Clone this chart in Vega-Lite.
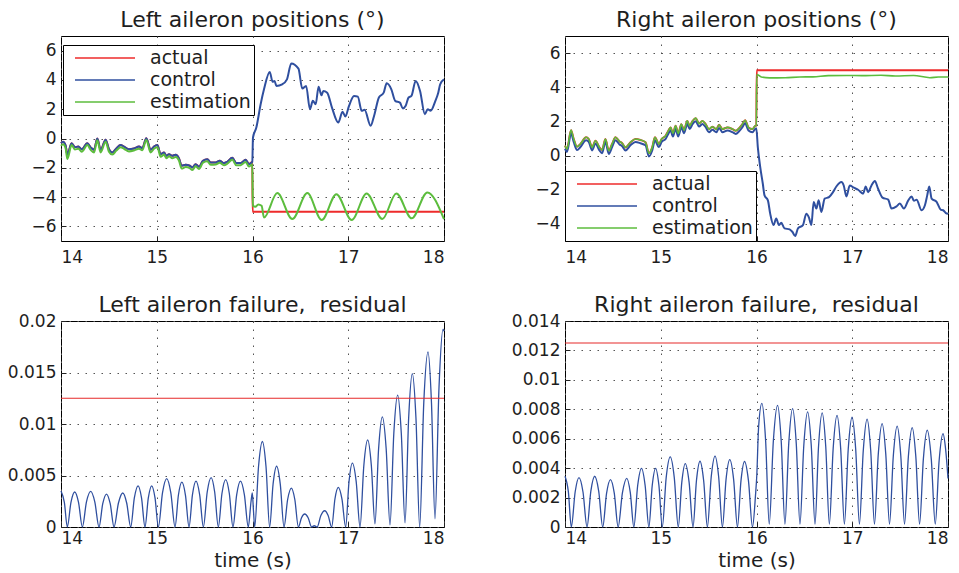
{
  "$schema": "https://vega.github.io/schema/vega-lite/v6.json",
  "background": "white",
  "padding": {"left": 6, "top": 8, "right": 5, "bottom": 0},
  "config": {
    "font": "DejaVu Sans",
    "view": {"stroke": "black", "strokeWidth": 1},
    "axis": {
      "domain": false,
      "grid": true,
      "gridColor": "#555555",
      "gridDash": [1.5, 6.5],
      "gridWidth": 1,
      "ticks": true,
      "tickColor": "#222222",
      "tickSize": -5,
      "tickCount": 20,
      "labelPadding": 10,
      "labelOverlap": false,
      "labelFont": "DejaVu Sans",
      "labelFontSize": 17,
      "labelColor": "#1e1e1e",
      "titleFont": "DejaVu Sans",
      "titleFontSize": 20,
      "titleFontWeight": "normal",
      "titleColor": "#1e1e1e"
    },
    "title": {"font": "DejaVu Sans", "fontSize": 22, "fontWeight": "normal", "color": "#1e1e1e", "frame": "group", "anchor": "middle", "offset": 4},
    "legend": {
      "orient": "none",
      "title": null,
      "symbolType": "stroke",
      "symbolSize": 3600,
      "symbolStrokeWidth": 1.6,
      "clipHeight": 20,
      "rowPadding": 2,
      "padding": 3,
      "symbolOffset": 8,
      "labelOffset": 14,
      "labelFont": "DejaVu Sans",
      "labelFontSize": 19,
      "labelColor": "#1e1e1e",
      "strokeColor": "black",
      "fillColor": "white"
    },
    "line": {"interpolate": "monotone"}
  },
  "datasets": {
    "leftControl": [
      {"t":14.0,"v":-0.32},{"t":14.021,"v":-0.23},{"t":14.049,"v":-0.5},{"t":14.066,"v":-1.1},{"t":14.111,"v":-0.32},{"t":14.146,"v":-0.6},{"t":14.181,"v":-0.55},{"t":14.216,"v":-0.73},{"t":14.275,"v":-0.32},{"t":14.31,"v":-0.61},{"t":14.345,"v":-0.77},{"t":14.379,"v":0.0},{"t":14.414,"v":-0.77},{"t":14.466,"v":-0.09},{"t":14.501,"v":-0.73},{"t":14.536,"v":-0.95},{"t":14.578,"v":-0.68},{"t":14.623,"v":-0.45},{"t":14.658,"v":-0.55},{"t":14.71,"v":-0.73},{"t":14.762,"v":-0.68},{"t":14.815,"v":-0.55},{"t":14.849,"v":-0.66},{"t":14.891,"v":0.02},{"t":14.936,"v":-0.77},{"t":14.971,"v":-0.55},{"t":15.006,"v":-0.45},{"t":15.041,"v":-1.07},{"t":15.076,"v":-0.95},{"t":15.1,"v":-1.18},{"t":15.128,"v":-1.07},{"t":15.163,"v":-1.18},{"t":15.198,"v":-1.11},{"t":15.232,"v":-1.36},{"t":15.26,"v":-1.86},{"t":15.302,"v":-1.8},{"t":15.344,"v":-1.86},{"t":15.372,"v":-1.98},{"t":15.406,"v":-1.75},{"t":15.441,"v":-1.93},{"t":15.483,"v":-1.52},{"t":15.528,"v":-1.41},{"t":15.563,"v":-1.64},{"t":15.615,"v":-1.64},{"t":15.657,"v":-1.52},{"t":15.702,"v":-1.68},{"t":15.737,"v":-1.59},{"t":15.789,"v":-1.32},{"t":15.831,"v":-1.68},{"t":15.876,"v":-1.68},{"t":15.929,"v":-1.45},{"t":15.963,"v":-1.75},{"t":15.998,"v":-1.6},
      {"t":16.005,"v":0.07},{"t":16.04,"v":0.75},{"t":16.085,"v":2.34},{"t":16.12,"v":3.36},{"t":16.18,"v":4.55},{"t":16.21,"v":3.87},{"t":16.23,"v":3.93},{"t":16.25,"v":3.59},{"t":16.31,"v":3.7},{"t":16.36,"v":4.04},{"t":16.405,"v":5.13},{"t":16.48,"v":4.77},{"t":16.52,"v":3.41},{"t":16.56,"v":3.59},{"t":16.6,"v":2.0},{"t":16.63,"v":2.57},{"t":16.66,"v":2.34},{"t":16.69,"v":3.54},{"t":16.72,"v":2.95},{"t":16.74,"v":3.25},{"t":16.78,"v":3.13},{"t":16.83,"v":2.11},{"t":16.896,"v":1.09},{"t":16.94,"v":1.82},{"t":16.97,"v":1.5},{"t":17.008,"v":2.23},{"t":17.06,"v":2.91},{"t":17.1,"v":2.86},{"t":17.14,"v":1.89},{"t":17.17,"v":1.96},{"t":17.234,"v":0.87},{"t":17.27,"v":1.55},{"t":17.32,"v":2.8},{"t":17.37,"v":3.13},{"t":17.401,"v":3.77},{"t":17.45,"v":3.36},{"t":17.49,"v":2.57},{"t":17.54,"v":2.45},{"t":17.57,"v":2.05},{"t":17.6,"v":2.23},{"t":17.63,"v":2.8},{"t":17.66,"v":2.91},{"t":17.704,"v":3.93},{"t":17.75,"v":3.25},{"t":17.8,"v":1.66},{"t":17.83,"v":2.0},{"t":17.86,"v":1.89},{"t":17.91,"v":2.57},{"t":17.94,"v":3.13},{"t":17.96,"v":3.7},{"t":18.0,"v":4.04}
    ],
    "leftActual": [
      {"t":14.0,"v":-0.32},{"t":14.021,"v":-0.23},{"t":14.049,"v":-0.5},{"t":14.066,"v":-1.1},{"t":14.111,"v":-0.32},{"t":14.146,"v":-0.6},{"t":14.181,"v":-0.55},{"t":14.216,"v":-0.73},{"t":14.275,"v":-0.32},{"t":14.31,"v":-0.61},{"t":14.345,"v":-0.77},{"t":14.379,"v":0.0},{"t":14.414,"v":-0.77},{"t":14.466,"v":-0.09},{"t":14.501,"v":-0.73},{"t":14.536,"v":-0.95},{"t":14.578,"v":-0.68},{"t":14.623,"v":-0.45},{"t":14.658,"v":-0.55},{"t":14.71,"v":-0.73},{"t":14.762,"v":-0.68},{"t":14.815,"v":-0.55},{"t":14.849,"v":-0.66},{"t":14.891,"v":0.02},{"t":14.936,"v":-0.77},{"t":14.971,"v":-0.55},{"t":15.006,"v":-0.45},{"t":15.041,"v":-1.07},{"t":15.076,"v":-0.95},{"t":15.1,"v":-1.18},{"t":15.128,"v":-1.07},{"t":15.163,"v":-1.18},{"t":15.198,"v":-1.11},{"t":15.232,"v":-1.36},{"t":15.26,"v":-1.86},{"t":15.302,"v":-1.8},{"t":15.344,"v":-1.86},{"t":15.372,"v":-1.98},{"t":15.406,"v":-1.75},{"t":15.441,"v":-1.93},{"t":15.483,"v":-1.52},{"t":15.528,"v":-1.41},{"t":15.563,"v":-1.64},{"t":15.615,"v":-1.64},{"t":15.657,"v":-1.52},{"t":15.702,"v":-1.68},{"t":15.737,"v":-1.59},{"t":15.789,"v":-1.32},{"t":15.831,"v":-1.68},{"t":15.876,"v":-1.68},{"t":15.929,"v":-1.45},{"t":15.963,"v":-1.75},{"t":15.998,"v":-1.6},
      {"t":16.001,"v":-5.0},{"t":18.0,"v":-5.0}
    ],
    "leftEstimation": [
      {"t":14.0,"v":-0.5},{"t":14.021,"v":-0.4},{"t":14.049,"v":-0.7},{"t":14.066,"v":-1.4},{"t":14.111,"v":-0.45},{"t":14.146,"v":-0.75},{"t":14.181,"v":-0.7},{"t":14.216,"v":-0.9},{"t":14.275,"v":-0.45},{"t":14.31,"v":-0.78},{"t":14.345,"v":-0.95},{"t":14.379,"v":-0.12},{"t":14.414,"v":-0.95},{"t":14.466,"v":-0.22},{"t":14.501,"v":-0.9},{"t":14.536,"v":-1.1},{"t":14.578,"v":-0.82},{"t":14.623,"v":-0.6},{"t":14.658,"v":-0.7},{"t":14.71,"v":-0.88},{"t":14.762,"v":-0.82},{"t":14.815,"v":-0.7},{"t":14.849,"v":-0.8},{"t":14.891,"v":-0.1},{"t":14.936,"v":-0.95},{"t":14.971,"v":-0.7},{"t":15.006,"v":-0.6},{"t":15.041,"v":-1.25},{"t":15.076,"v":-1.1},{"t":15.1,"v":-1.35},{"t":15.128,"v":-1.22},{"t":15.163,"v":-1.35},{"t":15.198,"v":-1.27},{"t":15.232,"v":-1.5},{"t":15.26,"v":-2.05},{"t":15.302,"v":-1.95},{"t":15.344,"v":-2.02},{"t":15.372,"v":-2.15},{"t":15.406,"v":-1.9},{"t":15.441,"v":-2.08},{"t":15.483,"v":-1.65},{"t":15.528,"v":-1.55},{"t":15.563,"v":-1.8},{"t":15.615,"v":-1.78},{"t":15.657,"v":-1.65},{"t":15.702,"v":-1.82},{"t":15.737,"v":-1.72},{"t":15.789,"v":-1.45},{"t":15.831,"v":-1.83},{"t":15.876,"v":-1.82},{"t":15.929,"v":-1.6},{"t":15.963,"v":-1.92},{"t":15.998,"v":-1.75},
      {"t":16.004,"v":-4.6},{"t":16.03,"v":-4.66},{"t":16.06,"v":-4.5},{"t":16.095,"v":-4.6},{"t":16.12,"v":-5.4},{"t":16.259,"v":-3.73},{"t":16.416,"v":-5.5},{"t":16.573,"v":-3.73},{"t":16.723,"v":-5.57},{"t":16.876,"v":-3.8},{"t":17.036,"v":-5.57},{"t":17.192,"v":-3.75},{"t":17.356,"v":-5.5},{"t":17.502,"v":-3.75},{"t":17.663,"v":-5.45},{"t":17.826,"v":-3.68},{"t":18.0,"v":-5.5}
    ],
    "rightEstimation": [
      {"t":14.0,"v":0.58},{"t":14.021,"v":0.39},{"t":14.063,"v":1.49},{"t":14.091,"v":0.97},{"t":14.126,"v":0.52},{"t":14.161,"v":0.68},{"t":14.22,"v":1.07},{"t":14.248,"v":0.97},{"t":14.283,"v":0.48},{"t":14.318,"v":0.87},{"t":14.36,"v":0.48},{"t":14.387,"v":0.33},{"t":14.422,"v":0.97},{"t":14.457,"v":0.29},{"t":14.492,"v":0.68},{"t":14.527,"v":1.07},{"t":14.569,"v":0.83},{"t":14.597,"v":0.72},{"t":14.632,"v":0.48},{"t":14.684,"v":0.78},{"t":14.736,"v":0.97},{"t":14.789,"v":0.91},{"t":14.841,"v":0.78},{"t":14.876,"v":0.14},{"t":14.911,"v":0.48},{"t":14.939,"v":1.07},{"t":14.981,"v":0.68},{"t":15.009,"v":0.97},{"t":15.051,"v":1.16},{"t":15.079,"v":1.45},{"t":15.103,"v":1.65},{"t":15.127,"v":1.3},{"t":15.155,"v":1.74},{"t":15.183,"v":1.3},{"t":15.215,"v":1.84},{"t":15.243,"v":1.49},{"t":15.277,"v":2.03},{"t":15.302,"v":1.74},{"t":15.33,"v":2.0},{"t":15.365,"v":2.19},{"t":15.4,"v":1.88},{"t":15.435,"v":2.03},{"t":15.469,"v":1.84},{"t":15.504,"v":1.55},{"t":15.539,"v":1.69},{"t":15.581,"v":1.55},{"t":15.609,"v":1.8},{"t":15.644,"v":1.55},{"t":15.696,"v":1.65},{"t":15.749,"v":1.55},{"t":15.783,"v":1.45},{"t":15.818,"v":1.6},{"t":15.853,"v":1.84},{"t":15.881,"v":2.07},{"t":15.916,"v":1.65},{"t":15.958,"v":1.55},{"t":15.986,"v":1.74},{"t":15.998,"v":1.75},
      {"t":16.003,"v":4.75},{"t":16.05,"v":4.6},{"t":16.136,"v":4.55},{"t":16.3,"v":4.56},{"t":16.45,"v":4.6},{"t":16.59,"v":4.61},{"t":16.75,"v":4.68},{"t":16.94,"v":4.69},{"t":17.1,"v":4.68},{"t":17.3,"v":4.7},{"t":17.45,"v":4.66},{"t":17.64,"v":4.69},{"t":17.81,"v":4.56},{"t":17.9,"v":4.6},{"t":18.0,"v":4.6}
    ],
    "rightActual": [
      {"t":14.0,"v":0.58},{"t":14.021,"v":0.39},{"t":14.063,"v":1.49},{"t":14.091,"v":0.97},{"t":14.126,"v":0.52},{"t":14.161,"v":0.68},{"t":14.22,"v":1.07},{"t":14.248,"v":0.97},{"t":14.283,"v":0.48},{"t":14.318,"v":0.87},{"t":14.36,"v":0.48},{"t":14.387,"v":0.33},{"t":14.422,"v":0.97},{"t":14.457,"v":0.29},{"t":14.492,"v":0.68},{"t":14.527,"v":1.07},{"t":14.569,"v":0.83},{"t":14.597,"v":0.72},{"t":14.632,"v":0.48},{"t":14.684,"v":0.78},{"t":14.736,"v":0.97},{"t":14.789,"v":0.91},{"t":14.841,"v":0.78},{"t":14.876,"v":0.14},{"t":14.911,"v":0.48},{"t":14.939,"v":1.07},{"t":14.981,"v":0.68},{"t":15.009,"v":0.97},{"t":15.051,"v":1.16},{"t":15.079,"v":1.45},{"t":15.103,"v":1.65},{"t":15.127,"v":1.3},{"t":15.155,"v":1.74},{"t":15.183,"v":1.3},{"t":15.215,"v":1.84},{"t":15.243,"v":1.49},{"t":15.277,"v":2.03},{"t":15.302,"v":1.74},{"t":15.33,"v":2.0},{"t":15.365,"v":2.19},{"t":15.4,"v":1.88},{"t":15.435,"v":2.03},{"t":15.469,"v":1.84},{"t":15.504,"v":1.55},{"t":15.539,"v":1.69},{"t":15.581,"v":1.55},{"t":15.609,"v":1.8},{"t":15.644,"v":1.55},{"t":15.696,"v":1.65},{"t":15.749,"v":1.55},{"t":15.783,"v":1.45},{"t":15.818,"v":1.6},{"t":15.853,"v":1.84},{"t":15.881,"v":2.07},{"t":15.916,"v":1.65},{"t":15.958,"v":1.55},{"t":15.986,"v":1.74},{"t":15.998,"v":1.75},
      {"t":16.002,"v":5.0},{"t":18.0,"v":5.0}
    ],
    "rightControl": [
      {"t":14.0,"v":0.4},{"t":14.021,"v":0.22},{"t":14.063,"v":1.3},{"t":14.091,"v":0.8},{"t":14.126,"v":0.33},{"t":14.161,"v":0.5},{"t":14.22,"v":0.9},{"t":14.248,"v":0.8},{"t":14.283,"v":0.3},{"t":14.318,"v":0.7},{"t":14.36,"v":0.3},{"t":14.387,"v":0.14},{"t":14.422,"v":0.8},{"t":14.457,"v":0.1},{"t":14.492,"v":0.5},{"t":14.527,"v":0.9},{"t":14.569,"v":0.65},{"t":14.597,"v":0.55},{"t":14.632,"v":0.3},{"t":14.684,"v":0.6},{"t":14.736,"v":0.8},{"t":14.789,"v":0.72},{"t":14.841,"v":0.6},{"t":14.876,"v":-0.05},{"t":14.911,"v":0.3},{"t":14.939,"v":0.88},{"t":14.981,"v":0.5},{"t":15.009,"v":0.8},{"t":15.051,"v":0.98},{"t":15.079,"v":1.27},{"t":15.103,"v":1.47},{"t":15.127,"v":1.12},{"t":15.155,"v":1.56},{"t":15.183,"v":1.12},{"t":15.215,"v":1.66},{"t":15.243,"v":1.31},{"t":15.277,"v":1.85},{"t":15.302,"v":1.56},{"t":15.33,"v":1.82},{"t":15.365,"v":2.01},{"t":15.4,"v":1.7},{"t":15.435,"v":1.85},{"t":15.469,"v":1.66},{"t":15.504,"v":1.37},{"t":15.539,"v":1.51},{"t":15.581,"v":1.37},{"t":15.609,"v":1.62},{"t":15.644,"v":1.37},{"t":15.696,"v":1.47},{"t":15.749,"v":1.37},{"t":15.783,"v":1.27},{"t":15.818,"v":1.42},{"t":15.853,"v":1.66},{"t":15.881,"v":1.89},{"t":15.916,"v":1.47},{"t":15.958,"v":1.37},{"t":15.986,"v":1.56},{"t":15.998,"v":1.6},
      {"t":16.014,"v":0.48},{"t":16.039,"v":-0.68},{"t":16.066,"v":-1.65},{"t":16.084,"v":-2.33},{"t":16.119,"v":-2.62},{"t":16.143,"v":-3.4},{"t":16.178,"v":-4.07},{"t":16.206,"v":-3.68},{"t":16.234,"v":-4.07},{"t":16.258,"v":-3.93},{"t":16.293,"v":-4.26},{"t":16.346,"v":-4.32},{"t":16.374,"v":-4.46},{"t":16.405,"v":-4.71},{"t":16.433,"v":-4.26},{"t":16.485,"v":-4.07},{"t":16.52,"v":-3.4},{"t":16.548,"v":-3.63},{"t":16.573,"v":-4.07},{"t":16.597,"v":-2.71},{"t":16.625,"v":-3.1},{"t":16.649,"v":-2.62},{"t":16.677,"v":-3.3},{"t":16.712,"v":-2.52},{"t":16.757,"v":-2.43},{"t":16.799,"v":-2.14},{"t":16.834,"v":-1.81},{"t":16.887,"v":-1.55},{"t":16.911,"v":-1.75},{"t":16.939,"v":-2.39},{"t":16.974,"v":-1.75},{"t":17.016,"v":-1.88},{"t":17.061,"v":-2.0},{"t":17.113,"v":-2.23},{"t":17.141,"v":-1.81},{"t":17.165,"v":-2.14},{"t":17.201,"v":-1.75},{"t":17.236,"v":-1.49},{"t":17.27,"v":-1.94},{"t":17.316,"v":-2.46},{"t":17.375,"v":-2.58},{"t":17.41,"v":-3.1},{"t":17.463,"v":-2.97},{"t":17.497,"v":-2.81},{"t":17.539,"v":-3.1},{"t":17.585,"v":-2.62},{"t":17.62,"v":-2.39},{"t":17.644,"v":-2.65},{"t":17.672,"v":-2.58},{"t":17.724,"v":-3.2},{"t":17.759,"v":-2.91},{"t":17.783,"v":-2.33},{"t":17.804,"v":-1.81},{"t":17.829,"v":-2.52},{"t":17.881,"v":-2.71},{"t":17.923,"v":-3.16},{"t":17.95,"v":-3.2},{"t":17.986,"v":-3.39},{"t":18.0,"v":-3.4}
    ],
    "leftResidual": [
      {"t":14.0,"v":0.0035},{"t":14.035,"v":0.0024},{"t":14.066,"v":0},
      {"t":14.104,"v":0.0024},{"t":14.143,"v":0.0034},{"t":14.183,"v":0.0024},{"t":14.223,"v":0},
      {"t":14.266,"v":0.00244},{"t":14.31,"v":0.00345},{"t":14.353,"v":0.00244},{"t":14.397,"v":0},
      {"t":14.436,"v":0.00226},{"t":14.475,"v":0.0032},{"t":14.514,"v":0.00226},{"t":14.554,"v":0},
      {"t":14.6,"v":0.00233},{"t":14.645,"v":0.0033},{"t":14.686,"v":0.00233},{"t":14.728,"v":0},
      {"t":14.766,"v":0.00283},{"t":14.805,"v":0.004},{"t":14.841,"v":0.00283},{"t":14.877,"v":0},
      {"t":14.912,"v":0.00283},{"t":14.947,"v":0.004},{"t":14.982,"v":0.00283},{"t":15.017,"v":0},
      {"t":15.06,"v":0.00332},{"t":15.104,"v":0.0047},{"t":15.147,"v":0.00332},{"t":15.191,"v":0},
      {"t":15.226,"v":0.00308},{"t":15.262,"v":0.00435},{"t":15.3,"v":0.00308},{"t":15.337,"v":0},
      {"t":15.373,"v":0.00315},{"t":15.41,"v":0.00445},{"t":15.448,"v":0.00315},{"t":15.487,"v":0},
      {"t":15.527,"v":0.0034},{"t":15.568,"v":0.0048},{"t":15.605,"v":0.0034},{"t":15.643,"v":0},
      {"t":15.681,"v":0.00325},{"t":15.72,"v":0.0046},{"t":15.758,"v":0.00325},{"t":15.796,"v":0},
      {"t":15.835,"v":0.00315},{"t":15.874,"v":0.00445},{"t":15.915,"v":0.00315},{"t":15.956,"v":0},
      {"t":15.985,"v":0.0025},{"t":15.998,"v":0.0033},{"t":16.01,"v":0.0016},{"t":16.023,"v":0},
      {"t":16.063,"v":0.00587},{"t":16.103,"v":0.0083},{"t":16.141,"v":0.00587},{"t":16.179,"v":0},
      {"t":16.215,"v":0.00417},{"t":16.252,"v":0.0059},{"t":16.29,"v":0.00417},{"t":16.329,"v":0},
      {"t":16.367,"v":0.00267},{"t":16.406,"v":0.00377},{"t":16.442,"v":0.00267},{"t":16.479,"v":0},
      {"t":16.512,"v":0.0009},{"t":16.545,"v":0.00126},{"t":16.581,"v":0.0009},{"t":16.618,"v":0},
      {"t":16.645,"v":0.00012},{"t":16.675,"v":0},
      {"t":16.714,"v":0.00112},{"t":16.754,"v":0.00158},{"t":16.79,"v":0.00112},{"t":16.827,"v":0},
      {"t":16.861,"v":0.00272},{"t":16.896,"v":0.00384},{"t":16.934,"v":0.00272},{"t":16.973,"v":0},
      {"t":17.008,"v":0.0044},{"t":17.043,"v":0.0062},{"t":17.083,"v":0.0044},{"t":17.123,"v":0},
      {"t":17.163,"v":0.006},{"t":17.203,"v":0.00845},{"t":17.241,"v":0.006},{"t":17.279,"v":0.0003},
      {"t":17.317,"v":0.0076},{"t":17.356,"v":0.0107},{"t":17.396,"v":0.0076},{"t":17.436,"v":0.0002},
      {"t":17.476,"v":0.0091},{"t":17.516,"v":0.0128},{"t":17.554,"v":0.0091},{"t":17.593,"v":0.0004},
      {"t":17.631,"v":0.0106},{"t":17.669,"v":0.0149},{"t":17.707,"v":0.0106},{"t":17.746,"v":0},
      {"t":17.789,"v":0.0121},{"t":17.833,"v":0.017},{"t":17.869,"v":0.0121},{"t":17.906,"v":0.0008},
      {"t":17.948,"v":0.0136},{"t":17.99,"v":0.0192},{"t":18.0,"v":0.019}
    ],
    "rightResidual": [
      {"t":14.0,"v":0.00345},{"t":14.035,"v":0.0024},{"t":14.066,"v":0},
      {"t":14.106,"v":0.00238},{"t":14.146,"v":0.00336},{"t":14.188,"v":0.00238},{"t":14.23,"v":0},
      {"t":14.27,"v":0.00244},{"t":14.31,"v":0.00345},{"t":14.352,"v":0.00244},{"t":14.394,"v":0},
      {"t":14.434,"v":0.00228},{"t":14.475,"v":0.00322},{"t":14.515,"v":0.00228},{"t":14.555,"v":0},
      {"t":14.6,"v":0.00234},{"t":14.645,"v":0.00331},{"t":14.682,"v":0.00234},{"t":14.719,"v":0},
      {"t":14.759,"v":0.00282},{"t":14.799,"v":0.00399},{"t":14.837,"v":0.00282},{"t":14.876,"v":0},
      {"t":14.911,"v":0.00282},{"t":14.946,"v":0.00399},{"t":14.981,"v":0.00282},{"t":15.016,"v":0},
      {"t":15.057,"v":0.00337},{"t":15.099,"v":0.00476},{"t":15.141,"v":0.00337},{"t":15.183,"v":0},
      {"t":15.22,"v":0.00305},{"t":15.256,"v":0.00431},{"t":15.296,"v":0.00305},{"t":15.337,"v":0},
      {"t":15.373,"v":0.00316},{"t":15.41,"v":0.00447},{"t":15.448,"v":0.00316},{"t":15.487,"v":0},
      {"t":15.527,"v":0.0034},{"t":15.567,"v":0.00481},{"t":15.605,"v":0.0034},{"t":15.644,"v":0},
      {"t":15.682,"v":0.00324},{"t":15.721,"v":0.00458},{"t":15.761,"v":0.00324},{"t":15.801,"v":0},
      {"t":15.838,"v":0.00315},{"t":15.875,"v":0.00445},{"t":15.916,"v":0.00315},{"t":15.958,"v":0},
      {"t":15.99,"v":0.0022},{"t":16.003,"v":0.0035},{"t":16.022,"v":0.0068},{"t":16.056,"v":0.0084},{"t":16.095,"v":0.0059},{"t":16.133,"v":0.0002},
      {"t":16.176,"v":0.00584},{"t":16.22,"v":0.00826},{"t":16.258,"v":0.00584},{"t":16.297,"v":0.0002},
      {"t":16.337,"v":0.0057},{"t":16.377,"v":0.00805},{"t":16.415,"v":0.0057},{"t":16.454,"v":0.0002},
      {"t":16.494,"v":0.00554},{"t":16.534,"v":0.00783},{"t":16.572,"v":0.00554},{"t":16.611,"v":0.0002},
      {"t":16.648,"v":0.00549},{"t":16.686,"v":0.00776},{"t":16.723,"v":0.00549},{"t":16.761,"v":0.0002},
      {"t":16.801,"v":0.00536},{"t":16.841,"v":0.00758},{"t":16.879,"v":0.00536},{"t":16.918,"v":0.0002},
      {"t":16.958,"v":0.00528},{"t":16.998,"v":0.00746},{"t":17.036,"v":0.00528},{"t":17.075,"v":0.0002},
      {"t":17.115,"v":0.00518},{"t":17.155,"v":0.00733},{"t":17.193,"v":0.00518},{"t":17.232,"v":0.0002},
      {"t":17.272,"v":0.00497},{"t":17.312,"v":0.00703},{"t":17.35,"v":0.00497},{"t":17.389,"v":0.0002},
      {"t":17.429,"v":0.00484},{"t":17.469,"v":0.00685},{"t":17.507,"v":0.00484},{"t":17.546,"v":0.0002},
      {"t":17.586,"v":0.00478},{"t":17.626,"v":0.00676},{"t":17.664,"v":0.00478},{"t":17.703,"v":0.0002},
      {"t":17.743,"v":0.00465},{"t":17.783,"v":0.00658},{"t":17.825,"v":0.00465},{"t":17.867,"v":0.0002},
      {"t":17.907,"v":0.00449},{"t":17.948,"v":0.00635},{"t":17.975,"v":0.0053},{"t":18.0,"v":0.0033}
    ],
    "threshold": [{"v": 0.0125}]
  },
  "concat": [
    {
      "width": 383,
      "height": 205,
      "title": "Left aileron positions (°)",
      "layer": [
        {"data": {"name": "leftActual"}, "mark": {"type": "line", "strokeWidth": 2},
         "encoding": {
           "x": {"field": "t", "type": "quantitative", "scale": {"domain": [14, 18], "nice": false, "zero": false}, "axis": {"values": [14, 15, 16, 17, 18], "tickCount": 20, "format": "d", "title": null, "labelPadding": 13, "labelOverlap": false}},
           "y": {"field": "v", "type": "quantitative", "scale": {"domain": [-7, 7], "nice": false}, "axis": {"values": [-6, -4, -2, 0, 2, 4, 6], "tickCount": 20, "format": "d", "title": null, "labelOverlap": false}},
           "color": {"datum": "actual", "scale": {"domain": ["actual", "control", "estimation"], "range": ["#ee2b2b", "#2f4f9f", "#5cbd3d"]}, "legend": {"legendX": 2, "legendY": 9}}
         }},
        {"data": {"name": "leftControl"}, "mark": {"type": "line", "strokeWidth": 2},
         "encoding": {"x": {"field": "t", "type": "quantitative"}, "y": {"field": "v", "type": "quantitative"}, "color": {"datum": "control"}}},
        {"data": {"name": "leftEstimation"}, "mark": {"type": "line", "strokeWidth": 2},
         "encoding": {"x": {"field": "t", "type": "quantitative"}, "y": {"field": "v", "type": "quantitative"}, "color": {"datum": "estimation"}}}
      ]
    },
    {
      "width": 383,
      "height": 205,
      "title": "Right aileron positions (°)",
      "layer": [
        {"data": {"name": "rightActual"}, "mark": {"type": "line", "strokeWidth": 2},
         "encoding": {
           "x": {"field": "t", "type": "quantitative", "scale": {"domain": [14, 18], "nice": false, "zero": false}, "axis": {"values": [14, 15, 16, 17, 18], "tickCount": 20, "format": "d", "title": null, "labelPadding": 13, "labelOverlap": false}},
           "y": {"field": "v", "type": "quantitative", "scale": {"domain": [-5, 7], "nice": false}, "axis": {"values": [-4, -2, 0, 2, 4, 6], "tickCount": 20, "format": "d", "title": null, "labelOverlap": false}},
           "color": {"datum": "actual", "scale": {"domain": ["actual", "control", "estimation"], "range": ["#ee2b2b", "#2f4f9f", "#5cbd3d"]}, "legend": {"legendX": 0, "legendY": 135}}
         }},
        {"data": {"name": "rightControl"}, "mark": {"type": "line", "strokeWidth": 2},
         "encoding": {"x": {"field": "t", "type": "quantitative"}, "y": {"field": "v", "type": "quantitative"}, "color": {"datum": "control"}}},
        {"data": {"name": "rightEstimation"}, "mark": {"type": "line", "strokeWidth": 1.6},
         "encoding": {"x": {"field": "t", "type": "quantitative"}, "y": {"field": "v", "type": "quantitative"}, "color": {"datum": "estimation"}}}
      ]
    },
    {
      "width": 383,
      "height": 206,
      "title": {"text": "Left aileron failure,\u00a0 residual", "offset": 0, "dy": 5},
      "layer": [
        {"data": {"name": "leftResidual"}, "mark": {"type": "line", "strokeWidth": 1.3, "color": "#2f4f9f"},
         "encoding": {
           "x": {"field": "t", "type": "quantitative", "scale": {"domain": [14, 18], "nice": false, "zero": false}, "axis": {"values": [14, 15, 16, 17, 18], "tickCount": 20, "format": "d", "title": "time (s)", "labelPadding": 8, "labelOverlap": false, "titleY": 39, "titleBaseline": "alphabetic"}},
           "y": {"field": "v", "type": "quantitative", "scale": {"domain": [0, 0.02], "nice": false}, "axis": {"values": [0, 0.005, 0.01, 0.015, 0.02], "tickCount": 20, "format": "~g", "title": null, "labelOverlap": false}}
         }},
        {"data": {"name": "threshold"}, "mark": {"type": "rule", "strokeWidth": 1.1, "color": "#e62a2a"},
         "encoding": {"y": {"field": "v", "type": "quantitative"}}}
      ]
    },
    {
      "width": 383,
      "height": 206,
      "title": {"text": "Right aileron failure,\u00a0 residual", "offset": 0, "dy": 5},
      "layer": [
        {"data": {"name": "rightResidual"}, "mark": {"type": "line", "strokeWidth": 1.3, "color": "#2f4f9f"},
         "encoding": {
           "x": {"field": "t", "type": "quantitative", "scale": {"domain": [14, 18], "nice": false, "zero": false}, "axis": {"values": [14, 15, 16, 17, 18], "tickCount": 20, "format": "d", "title": "time (s)", "labelPadding": 8, "labelOverlap": false, "titleY": 39, "titleBaseline": "alphabetic"}},
           "y": {"field": "v", "type": "quantitative", "scale": {"domain": [0, 0.014], "nice": false}, "axis": {"values": [0, 0.002, 0.004, 0.006, 0.008, 0.01, 0.012, 0.014], "tickCount": 20, "format": "~g", "title": null, "labelOverlap": false}}
         }},
        {"data": {"name": "threshold"}, "mark": {"type": "rule", "strokeWidth": 1.1, "color": "#e62a2a"},
         "encoding": {"y": {"field": "v", "type": "quantitative"}}}
      ]
    }
  ],
  "columns": 2,
  "spacing": {"row": 80, "column": 121},
  "bounds": "flush",
  "resolve": {"scale": {"color": "independent"}, "legend": {"color": "independent"}}
}
